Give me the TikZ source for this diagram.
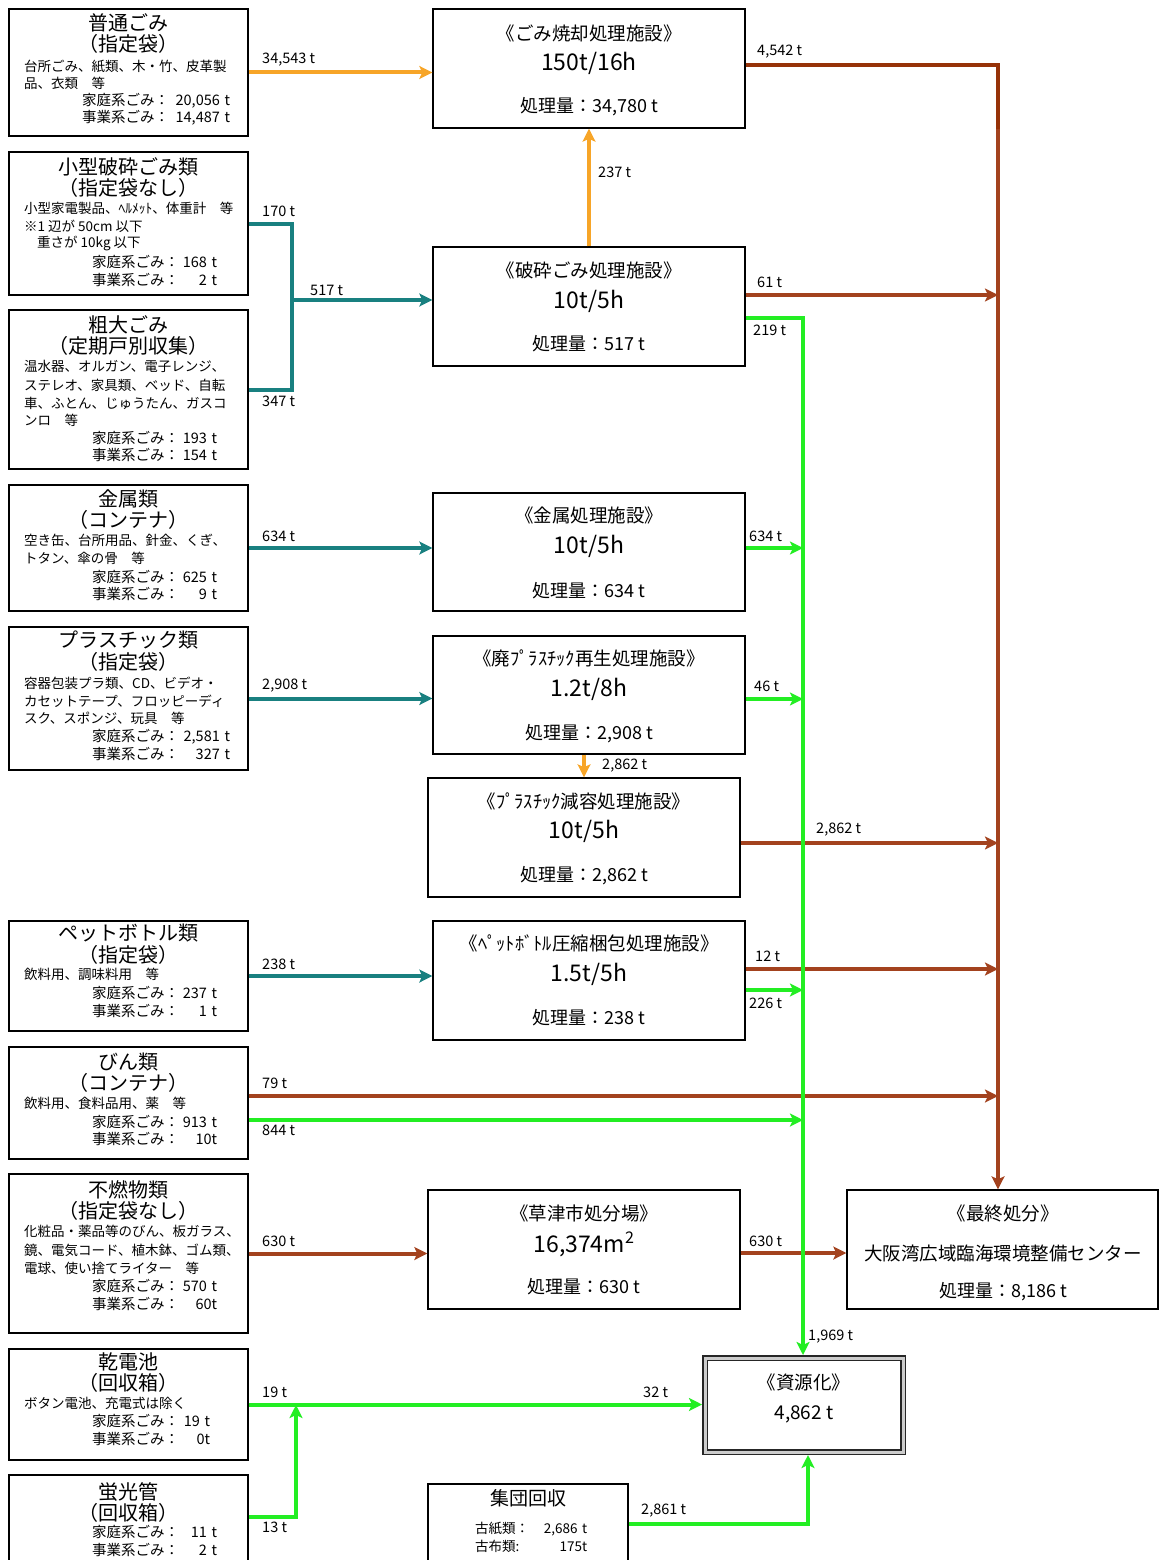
\documentclass[tikz,border=0pt]{standalone}
\usepackage{fontspec}
\setmainfont{Noto Sans CJK JP}
\usetikzlibrary{arrows.meta,fit}
\definecolor{cOr}{RGB}{247,165,40}
\definecolor{cBr}{RGB}{163,66,30}
\definecolor{cBd}{RGB}{150,50,8}
\definecolor{cTe}{RGB}{25,128,128}
\definecolor{cGr}{RGB}{35,238,35}
\newcommand\fsz[1]{\fontsize{#1}{#1}\selectfont}
\newcommand\rnum[1]{\hskip 0pt plus 1filll\relax\mbox{#1}}
\tikzset{
  box/.style={draw=black, line width=1.4pt, fill=white, inner sep=0pt},
  dbox/.style={draw=black!85, double=gray!40, double distance=3pt, line width=1.5pt, inner sep=0pt, outer sep=3pt},
  ttl/.style={inner sep=0pt, font=\fsz{20}},
  dsc/.style={inner sep=0pt, anchor=west, font=\fsz{13.5}},
  dat/.style={inner sep=0pt, anchor=west, font=\fsz{14.5}, align=left},
  ftl/.style={inner sep=0pt, font=\fsz{18.5}},
  capty/.style={inner sep=0pt, font=\fsz{23}},
  amt/.style={inner sep=0pt, font=\fsz{18}},
  lbl/.style={inner sep=0pt, anchor=west, font=\fsz{14.5}},
  flow/.style={line width=4pt},
  tipped/.style={-{Stealth[length=13pt,width=13pt,inset=3pt]}},
  lor/.style={flow, draw=cOr},
  lbr/.style={flow, draw=cBr},
  lte/.style={flow, draw=cTe},
  lgr/.style={flow, draw=cGr},
}
\begin{document}
\begin{tikzpicture}[x=1pt,y=-1pt]
\useasboundingbox (0,0) rectangle (1159,1560);
\fill[white] (0,0) rectangle (1159,1560);

% ---------- source boxes ----------
\node[box, fit={(9,9)(248,136)}] (s1) {};
\node[box, fit={(9,152)(248,295)}] (s2) {};
\node[box, fit={(9,310)(248,469)}] (s3) {};
\node[box, fit={(9,485)(248,611)}] (s4) {};
\node[box, fit={(9,627)(248,770)}] (s5) {};
\node[box, fit={(9,921)(248,1031)}] (s6) {};
\node[box, fit={(9,1047)(248,1159)}] (s7) {};
\node[box, fit={(9,1174)(248,1333)}] (s8) {};
\node[box, fit={(9,1349)(248,1460)}] (s9) {};
\node[box, fit={(9,1475)(248,1575)}] (s10) {};

% ---------- facility boxes ----------
\node[box, fit={(433,9)(745,128)}] (f1) {};
\node[box, fit={(433,247)(745,366)}] (f2) {};
\node[box, fit={(433,493)(745,611)}] (f3) {};
\node[box, fit={(433,636)(745,754)}] (f4) {};
\node[box, fit={(428,778)(740,897)}] (f5) {};
\node[box, fit={(433,921)(745,1040)}] (f6) {};
\node[box, fit={(428,1190)(740,1309)}] (f7) {};
\node[box, fit={(428,1484)(628,1575)}] (f8) {};
\node[box, fit={(847,1190)(1158,1309)}] (fin) {};
\node[dbox, fit={(705,1358)(903,1452)}] (res) {};

% ---------- junction coordinates ----------
\coordinate (bx) at (998,0);
\coordinate (gx) at (803,0);
\coordinate (rx) at (808,0);
\coordinate (tj) at (292,300);
\coordinate (gj) at (296,1405);

% ---------- brown flows ----------
\draw[flow, draw=cBd, line width=4.5pt] ([yshift=3.5pt]f1.east) -- ([yshift=3.5pt]f1.east -| bx) -- (f1.south -| bx);
\draw[lbr, tipped] (f1.south -| bx) -- (fin.north -| bx);
\draw[lbr, tipped] ([yshift=11.5pt]f2.east) -- ([yshift=11.5pt]f2.east -| bx);
\draw[lbr, tipped] ([yshift=-5.5pt]f5.east) -- ([yshift=-5.5pt]f5.east -| bx);
\draw[lbr, tipped] ([yshift=11.5pt]f6.east) -- ([yshift=11.5pt]f6.east -| bx);
\draw[lbr, tipped] ([yshift=7pt]s7.east) -- ([yshift=7pt]s7.east -| bx);
\draw[lbr, tipped] (s8.east) -- (s8.east -| f7.west);
\draw[lbr, tipped] ([yshift=-3.5pt]f7.east) -- ([yshift=-3.5pt]f7.east -| fin.west);

% ---------- teal flows ----------
\draw[lte] (s2.east) -- (s2.east -| tj) -- (s3.east -| tj) -- (s3.east);
\draw[lte, tipped] (tj) -- (tj -| f2.west);
\draw[lte, tipped] (s4.east) -- (s4.east -| f3.west);
\draw[lte, tipped] (s5.east) -- (s5.east -| f4.west);
\draw[lte, tipped] (s6.east) -- (s6.east -| f6.west);

% ---------- orange flows ----------
\draw[lor, tipped] (s1.east) -- (s1.east -| f1.west);
\draw[lor, tipped] (f2.north) -- (f1.south);
\draw[lor, tipped] (f4.south -| f5.north) -- (f5.north);

% ---------- green flows ----------
\draw[lgr, tipped] ([yshift=-11.5pt]f2.east) -- ([yshift=-11.5pt]f2.east -| gx) -- (res.north -| gx);
\draw[lgr, tipped] ([yshift=4pt]f3.east) -- ([yshift=4pt]f3.east -| gx);
\draw[lgr, tipped] ([yshift=-4pt]f4.east) -- ([yshift=-4pt]f4.east -| gx);
\draw[lgr, tipped] ([yshift=-9.5pt]f6.east) -- ([yshift=-9.5pt]f6.east -| gx);
\draw[lgr, tipped] ([yshift=-17pt]s7.east) -- ([yshift=-17pt]s7.east -| gx);
\draw[lgr, tipped] (s9.east) -- (s9.east -| res.west);
\draw[lgr, tipped] ([yshift=8pt]s10.east) -- ([yshift=8pt]s10.east -| gj) -- (gj);
\draw[lgr, tipped] ([yshift=5.5pt]f8.east) -- ([yshift=5.5pt]f8.east -| rx) -- (res.south -| rx);

% ---------- flow labels ----------
\node[lbl] (l1) at (262,60) {34,543 t};
\node[lbl] (l2) at (757,52) {4,542 t};
\node[lbl] (l3) at (598,172) {237 t};
\node[lbl] (l4) at (262,211) {170 t};
\node[lbl] (l5) at (310,290) {517 t};
\node[lbl] (l6) at (262,401) {347 t};
\node[lbl] (l7) at (757,282) {61 t};
\node[lbl] (l8) at (753,330) {219 t};
\node[lbl] (l9) at (262,536) {634 t};
\node[lbl] (l10) at (749,536) {634 t};
\node[lbl] (l11) at (262,686) {2,908 t};
\node[lbl] (l12) at (754,686) {46 t};
\node[lbl] (l13) at (602,766) {2,862 t};
\node[lbl] (l14) at (816,830) {2,862 t};
\node[lbl] (l15) at (262,964) {238 t};
\node[lbl] (l16) at (755,956) {12 t};
\node[lbl] (l17) at (749,1003) {226 t};
\node[lbl] (l18) at (262,1083) {79 t};
\node[lbl] (l19) at (262,1130) {844 t};
\node[lbl] (l20) at (262,1241) {630 t};
\node[lbl] (l21) at (749,1241) {630 t};
\node[lbl] (l22) at (808,1337) {1,969 t};
\node[lbl] (l23) at (262,1392) {19 t};
\node[lbl] (l24) at (643,1392) {32 t};
\node[lbl] (l25) at (262,1527) {13 t};
\node[lbl] (l26) at (641,1511) {2,861 t};

% ---------- source texts ----------
\node[ttl] (s1a) at (128.5,23) {普通ごみ};
\node[ttl] (s1b) at (128.5,44) {（指定袋）};
\node[dsc] (s1c) at (24,66) {台所ごみ、紙類、木・竹、皮革製};
\node[dsc] (s1d) at (24,83) {品、衣類　等};
\node[dat, text width=148pt] (s1e) at (82,101) {家庭系ごみ：\rnum{20,056 t}};
\node[dat, text width=148pt] (s1f) at (82,118) {事業系ごみ：\rnum{14,487 t}};

\node[ttl] (s2a) at (128.5,167) {小型破砕ごみ類};
\node[ttl] (s2b) at (128.5,188) {（指定袋なし）};
\node[dsc] (s2c) at (24,208) {小型家電製品、ﾍﾙﾒｯﾄ、体重計　等};
\node[dsc] (s2d) at (24,226) {※1 辺が 50cm 以下};
\node[dsc] (s2e) at (37,243) {重さが 10kg 以下};
\node[dat, text width=125pt] (s2f) at (92,262) {家庭系ごみ：\rnum{168 t}};
\node[dat, text width=125pt] (s2g) at (92,280) {事業系ごみ：\rnum{2 t}};

\node[ttl] (s3a) at (128.5,325) {粗大ごみ};
\node[ttl] (s3b) at (128.5,346) {（定期戸別収集）};
\node[dsc] (s3c) at (24,366) {温水器、オルガン、電子レンジ、};
\node[dsc] (s3d) at (24,385) {ステレオ、家具類、ベッド、自転};
\node[dsc] (s3e) at (24,403) {車、ふとん、じゅうたん、ガスコ};
\node[dsc] (s3f) at (24,420) {ンロ　等};
\node[dat, text width=125pt] (s3g) at (92,438) {家庭系ごみ：\rnum{193 t}};
\node[dat, text width=125pt] (s3h) at (92,455) {事業系ごみ：\rnum{154 t}};

\node[ttl] (s4a) at (128.5,499) {金属類};
\node[ttl] (s4b) at (128.5,520) {（コンテナ）};
\node[dsc] (s4c) at (24,540) {空き缶、台所用品、針金、くぎ、};
\node[dsc] (s4d) at (24,558) {トタン、傘の骨　等};
\node[dat, text width=125pt] (s4e) at (92,577) {家庭系ごみ：\rnum{625 t}};
\node[dat, text width=125pt] (s4f) at (92,594) {事業系ごみ：\rnum{9 t}};

\node[ttl] (s5a) at (128.5,640) {プラスチック類};
\node[ttl] (s5b) at (128.5,662) {（指定袋）};
\node[dsc] (s5c) at (24,683) {容器包装プラ類、CD、ビデオ・};
\node[dsc] (s5d) at (24,701) {カセットテープ、フロッピーディ};
\node[dsc] (s5e) at (24,718) {スク、スポンジ、玩具　等};
\node[dat, text width=138pt] (s5f) at (92,737) {家庭系ごみ：\rnum{2,581 t}};
\node[dat, text width=138pt] (s5g) at (92,754) {事業系ごみ：\rnum{327 t}};

\node[ttl] (s6a) at (128.5,933) {ペットボトル類};
\node[ttl] (s6b) at (128.5,955) {（指定袋）};
\node[dsc] (s6c) at (24,974) {飲料用、調味料用　等};
\node[dat, text width=125pt] (s6d) at (92,993) {家庭系ごみ：\rnum{237 t}};
\node[dat, text width=125pt] (s6e) at (92,1011) {事業系ごみ：\rnum{1 t}};

\node[ttl] (s7a) at (128.5,1062) {びん類};
\node[ttl] (s7b) at (128.5,1083) {（コンテナ）};
\node[dsc] (s7c) at (24,1103) {飲料用、食料品用、薬　等};
\node[dat, text width=125pt] (s7d) at (92,1122) {家庭系ごみ：\rnum{913 t}};
\node[dat, text width=125pt] (s7e) at (92,1139) {事業系ごみ：\rnum{10t}};

\node[ttl] (s8a) at (128.5,1190) {不燃物類};
\node[ttl] (s8b) at (128.5,1211) {（指定袋なし）};
\node[dsc] (s8c) at (24,1231) {化粧品・薬品等のびん、板ガラス、};
\node[dsc] (s8d) at (24,1250) {鏡、電気コード、植木鉢、ゴム類、};
\node[dsc] (s8e) at (24,1268) {電球、使い捨てライター　等};
\node[dat, text width=125pt] (s8f) at (92,1286) {家庭系ごみ：\rnum{570 t}};
\node[dat, text width=125pt] (s8g) at (92,1304) {事業系ごみ：\rnum{60t}};

\node[ttl] (s9a) at (128.5,1362) {乾電池};
\node[ttl] (s9b) at (128.5,1383) {（回収箱）};
\node[dsc] (s9c) at (24,1403) {ボタン電池、充電式は除く};
\node[dat, text width=118pt] (s9d) at (92,1421) {家庭系ごみ：\rnum{19 t}};
\node[dat, text width=118pt] (s9e) at (92,1439) {事業系ごみ：\rnum{0t}};

\node[ttl] (s10a) at (128.5,1492) {蛍光管};
\node[ttl] (s10b) at (128.5,1513) {（回収箱）};
\node[dat, text width=125pt] (s10c) at (92,1532) {家庭系ごみ：\rnum{11 t}};
\node[dat, text width=125pt] (s10d) at (92,1550) {事業系ごみ：\rnum{2 t}};

% ---------- facility texts ----------
\node[ftl] (f1a) at (589,33) {《ごみ焼却処理施設》};
\node[capty] (f1b) at (589,63) {150t/16h};
\node[amt] (f1c) at (589,107) {処理量：34,780 t};

\node[ftl] (f2a) at (589,270) {《破砕ごみ処理施設》};
\node[capty] (f2b) at (589,301) {10t/5h};
\node[amt] (f2c) at (589,344) {処理量：517 t};

\node[ftl] (f3a) at (589,515) {《金属処理施設》};
\node[capty] (f3b) at (589,546) {10t/5h};
\node[amt] (f3c) at (589,591) {処理量：634 t};

\node[ftl] (f4a) at (589,658) {《廃ﾌﾟﾗｽﾁｯｸ再生処理施設》};
\node[capty] (f4b) at (589,689) {1.2t/8h};
\node[amt] (f4c) at (589,734) {処理量：2,908 t};

\node[ftl] (f5a) at (584,801) {《ﾌﾟﾗｽﾁｯｸ減容処理施設》};
\node[capty] (f5b) at (584,831) {10t/5h};
\node[amt] (f5c) at (584,876) {処理量：2,862 t};

\node[ftl] (f6a) at (589,943) {《ﾍﾟｯﾄﾎﾞﾄﾙ圧縮梱包処理施設》};
\node[capty] (f6b) at (589,974) {1.5t/5h};
\node[amt] (f6c) at (589,1018) {処理量：238 t};

\node[ftl] (f7a) at (584,1213) {《草津市処分場》};
\node[capty] (f7b) at (584,1244) {16,374m\textsuperscript{2}};
\node[amt] (f7c) at (584,1287) {処理量：630 t};

\node[ftl] (fina) at (1003,1213) {《最終処分》};
\node[ftl] (finb) at (1003,1253) {大阪湾広域臨海環境整備センター};
\node[amt] (finc) at (1003,1292) {処理量：8,186 t};

\node[ftl] (resa) at (804,1382) {《資源化》};
\node[inner sep=0pt, font=\fsz{19}] (resb) at (804,1414) {4,862 t};

\node[inner sep=0pt, font=\fsz{19}] (f8a) at (528,1498) {集団回収};
\node[dat, font=\fsz{13.5}, text width=112pt] (f8b) at (475,1529) {古紙類：\rnum{2,686 t}};
\node[dat, font=\fsz{13.5}, text width=112pt] (f8c) at (475,1546) {古布類:\rnum{175t}};
\end{tikzpicture}
\end{document}
